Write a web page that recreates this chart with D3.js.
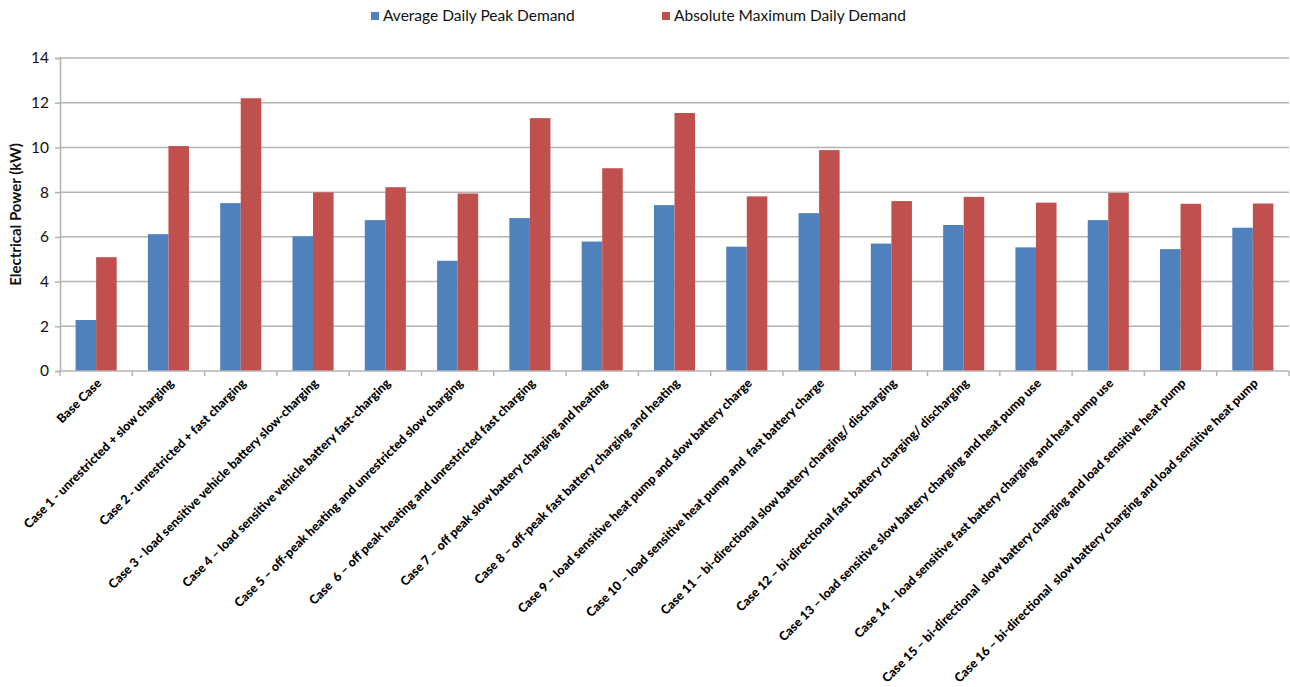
<!DOCTYPE html>
<html>
<head>
<meta charset="utf-8">
<script src="https://cdn.jsdelivr.net/npm/d3@7"></script>
<style>
  html, body { margin: 0; padding: 0; background: #fff; }
  svg { display: block; font-family: Lato, "Open Sans", sans-serif; }
  .xlab { white-space: pre; }
</style>
</head>
<body>
<svg id="chart" width="1290" height="687"></svg>
<script>
const categories = [
  "Base Case",
  "Case 1 - unrestricted + slow charging",
  "Case 2 - unrestricted + fast charging",
  "Case 3 - load sensitive vehicle battery slow-charging",
  "Case 4 \u2013 load sensitive vehicle battery fast-charging",
  "Case 5 \u2013 off-peak heating and unrestricted slow charging",
  "Case  6 \u2013 off peak heating and unrestricted fast charging",
  "Case 7 \u2013 off peak slow battery charging and heating",
  "Case 8 \u2013 off-peak fast battery charging and heating",
  "Case 9 \u2013 load sensitive heat pump and slow battery charge",
  "Case 10 \u2013 load sensitive heat pump and  fast battery charge",
  "Case 11 \u2013 bi-directional slow battery charging/ discharging",
  "Case 12 \u2013 bi-directional fast battery charging/ discharging",
  "Case 13 \u2013 load sensitive slow battery charging and heat pump use",
  "Case 14 \u2013 load sensitive fast battery charging and heat pump use",
  "Case 15 \u2013 bi-directional  slow battery charging and load sensitive heat pump",
  "Case 16 \u2013 bi-directional  slow battery charging and load sensitive heat pump"
];
const seriesNames = ["Average Daily Peak Demand", "Absolute Maximum Daily Demand"];
const averagePeak = [2.28, 6.12, 7.51, 6.02, 6.75, 4.93, 6.84, 5.79, 7.42, 5.56, 7.06, 5.70, 6.53, 5.53, 6.75, 5.45, 6.41];
const absoluteMax = [5.09, 10.06, 12.2, 7.99, 8.22, 7.94, 11.31, 9.07, 11.54, 7.81, 9.88, 7.60, 7.79, 7.53, 7.96, 7.48, 7.49];
const yTicks = [0, 2, 4, 6, 8, 10, 12, 14];
const colors = ["#4F81BD", "#C0504D"];

const svg = d3.select("#chart");
const plot = { left: 60, right: 1289, top: 58, bottom: 371 };

const x = d3.scaleBand().domain(categories).range([plot.left, plot.right]).padding(0);
const x1 = d3.scaleBand().domain(seriesNames).range([0, x.bandwidth()])
  .paddingInner(0).paddingOuter(0.76);
const y = d3.scaleLinear().domain([0, 14]).range([plot.bottom, plot.top]);

const gridColor = "#b4b4b4";

// horizontal gridlines
svg.append("g").selectAll("line").data(yTicks.filter(d => d > 0)).join("line")
  .attr("x1", plot.left).attr("x2", plot.right)
  .attr("y1", d => y(d)).attr("y2", d => y(d))
  .attr("stroke", gridColor).attr("stroke-width", 1.5);

// bars
const rows = categories.map((c, i) => ({ cat: c, vals: [averagePeak[i], absoluteMax[i]] }));
const groups = svg.append("g").selectAll("g").data(rows).join("g")
  .attr("transform", d => `translate(${x(d.cat)},0)`);
groups.selectAll("rect").data(d => d.vals.map((v, j) => ({ s: seriesNames[j], v, j })))
  .join("rect")
  .attr("x", d => x1(d.s))
  .attr("width", x1.bandwidth())
  .attr("y", d => y(d.v))
  .attr("height", d => y(0) - y(d.v))
  .attr("fill", d => colors[d.j]);

// y axis
const yAxis = svg.append("g").attr("transform", `translate(${plot.left},0)`)
  .call(d3.axisLeft(y).tickValues(yTicks).tickSize(5).tickPadding(6).tickFormat(d3.format("d")));
yAxis.select(".domain").attr("stroke", gridColor).attr("stroke-width", 1.5);
yAxis.selectAll(".tick line").attr("stroke", gridColor).attr("stroke-width", 1.5);
yAxis.selectAll(".tick text").attr("font-size", 15.5).attr("fill", "#111")
  .attr("font-family", "Lato, sans-serif");

// x axis line and category boundary ticks
svg.append("line").attr("x1", plot.left).attr("x2", plot.right)
  .attr("y1", y(0)).attr("y2", y(0)).attr("stroke", gridColor).attr("stroke-width", 1.5);
const boundaries = categories.map(c => x(c)).concat([x(categories[categories.length - 1]) + x.bandwidth()]);
svg.append("g").selectAll("line").data(boundaries).join("line")
  .attr("x1", d => d).attr("x2", d => d)
  .attr("y1", y(0)).attr("y2", y(0) + 5)
  .attr("stroke", gridColor).attr("stroke-width", 1.5);

// rotated category labels
svg.append("g").selectAll("text").data(categories).join("text")
  .attr("class", "xlab")
  .attr("transform", d => `translate(${x(d) + x.bandwidth() / 2 + 6},${y(0) + 13}) rotate(-45)`)
  .attr("text-anchor", "end")
  .attr("font-size", 12.5)
  .attr("font-weight", 900)
  .attr("fill", "#000")
  .text(d => d);

// y axis title
svg.append("text")
  .attr("transform", `translate(21,${(plot.top + plot.bottom) / 2}) rotate(-90)`)
  .attr("text-anchor", "middle")
  .attr("font-size", 15).attr("font-weight", "bold").attr("fill", "#111")
  .text("Electrical Power (kW)");

// legend
const legendX = [371, 662];
const legend = svg.append("g").selectAll("g").data(seriesNames).join("g")
  .attr("transform", (d, i) => `translate(${legendX[i]},12)`);
legend.append("rect").attr("width", 8).attr("height", 8).attr("fill", (d, i) => colors[i]);
legend.append("text").attr("x", 12).attr("y", 4).attr("dy", "0.35em")
  .attr("font-size", 15.5).attr("fill", "#111").text(d => d);
</script>
</body>
</html>
